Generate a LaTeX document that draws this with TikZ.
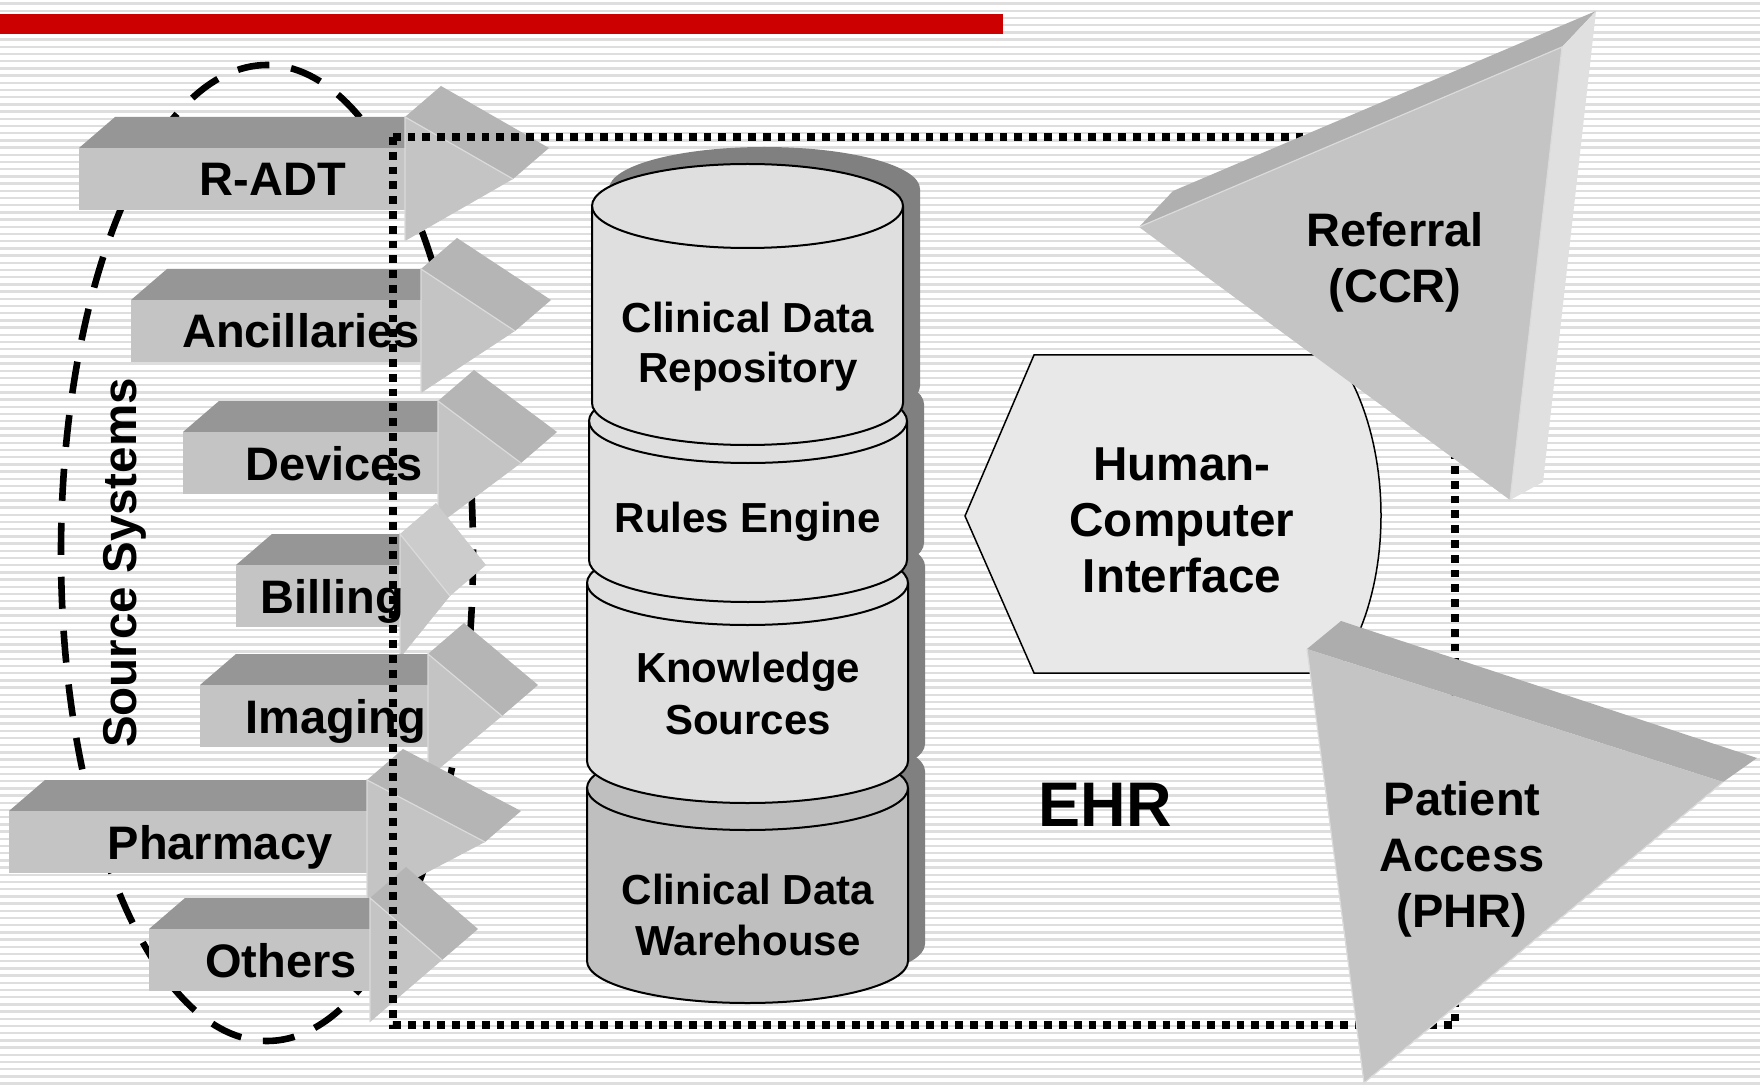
\documentclass[tikz,border=0pt]{standalone}
\usepackage{fontspec}
\setmainfont{Liberation Sans}
\definecolor{afront}{gray}{0.77}
\definecolor{atop}{gray}{0.59}
\definecolor{ahead}{gray}{0.71}
\definecolor{aheadlt}{gray}{0.80}
\definecolor{aedge}{gray}{0.86}
\definecolor{cyllt}{gray}{0.875}
\definecolor{cyldk}{gray}{0.75}
\definecolor{cylshadow}{gray}{0.5}
\definecolor{hcifill}{gray}{0.91}
\definecolor{stripe}{gray}{0.87}
\definecolor{redbar}{RGB}{204,0,0}
\definecolor{trifront}{gray}{0.77}
\definecolor{tritop}{gray}{0.69}
\definecolor{triside}{gray}{0.88}
\definecolor{tripband}{gray}{0.68}
% #1 name, #2 left, #3 right (head base), #4 body top, #5 head length, #6 text, #7 text x, #8 head-top colour
\newcommand\srcarrow[8]{%
  \fill[atop] (#2,#4) -- (#2+36,#4-31) -- (#3+36,#4-31) -- (#3,#4) -- cycle;
  \fill[afront] (#2,#4) rectangle (#3,#4+62);
  \fill[#8] (#3,#4-31) -- (#3+36,#4-62) -- (#3+#5+36,#4) -- (#3+#5,#4+31) -- cycle;
  \fill[afront] (#3,#4-31) -- (#3+#5,#4+31) -- (#3,#4+93) -- cycle;
  \draw[aedge, line width=0.6pt] (#3,#4+93) -- (#3,#4-31) -- (#3+#5,#4+31);
  \node[arrowtxt, anchor=base] (#1) at (#7,#4+48) {#6};
}
% cx, rx, top yc, bottom yc, ry
\newcommand\cylshade[5]{%
  \fill[cylshadow] (#1-#2+17,#3-17) -- (#1-#2+17,#4-17) arc[start angle=180,end angle=0,x radius=#2,y radius=#5]
    -- (#1+#2+17,#3-17) arc[start angle=0,end angle=-180,x radius=#2,y radius=#5] -- cycle;
}
\newcommand\cylbody[6]{%
  \filldraw[fill=#6, cylline] (#1-#2,#3) -- (#1-#2,#4) arc[start angle=180,end angle=0,x radius=#2,y radius=#5]
    -- (#1+#2,#3) arc[start angle=0,end angle=-180,x radius=#2,y radius=#5] -- cycle;
  \draw[cylline] (#1-#2,#3) arc[start angle=180,end angle=0,x radius=#2,y radius=#5];
}
\begin{document}
\begin{tikzpicture}[x=0.5pt,y=0.5pt,yscale=-1,
  arrowtxt/.style={font=\bfseries\fontsize{23.5}{28}\selectfont, inner sep=0pt},
  cyltxt/.style={font=\bfseries\fontsize{21}{25}\selectfont, inner sep=0pt},
  bigtxt/.style={font=\bfseries\fontsize{23.8}{28}\selectfont, inner sep=0pt},
  ehrtxt/.style={font=\bfseries\fontsize{31.5}{36}\selectfont, inner sep=0pt},
  cylline/.style={draw=black, line width=1pt},
  ringline/.style={line width=3.3pt, dash pattern=on 16pt off 11pt},
  boxline/.style={line width=3.6pt, dash pattern=on 3.9pt off 3.5pt},
  outline/.style={draw=black, line width=0.75pt},
]
\useasboundingbox (0,0) rectangle (1760,1085);
\fill[white] (0,0) rectangle (1760,1085);
\foreach \k in {0,...,150} \draw[stripe, line width=1.2pt] (0,{3.6+7.2*\k}) -- (1760,{3.6+7.2*\k});
\fill[redbar] (0,14) rectangle (1003,34);

% source systems ring
\draw[ringline] (267,553) ellipse [x radius=206, y radius=488];

% source arrows
\srcarrow{radt}{79}{405}{148}{108}{R-ADT}{273}{ahead}
\srcarrow{ancil}{131}{421}{300}{94}{Ancillaries}{301}{ahead}
\srcarrow{devices}{183}{438}{432}{83}{Devices}{334}{ahead}
\srcarrow{billing}{236}{400}{565}{50}{Billing}{332}{aheadlt}
\srcarrow{imaging}{200}{428}{685}{74}{Imaging}{336}{ahead}
\srcarrow{pharmacy}{9}{367}{811}{118}{Pharmacy}{220}{ahead}
\srcarrow{others}{149}{370}{929}{72}{Others}{281}{ahead}

% EHR boundary
\draw[boxline] (393,137) rectangle (1455,1025);

\node[arrowtxt, font=\bfseries\fontsize{23.75}{28}\selectfont, rotate=90, anchor=base] (srcsys) at (136,563) {Source Systems};

% cylinders stack
\cylshade{747.5}{155.5}{206}{403}{42}
\cylshade{748}{159}{421}{560}{42}
\cylshade{747.5}{160.5}{583}{761}{42}
\cylshade{747.5}{160.5}{788}{961}{42}
\cylbody{747.5}{160.5}{788}{961}{42}{cyldk}
\cylbody{747.5}{160.5}{583}{761}{42}{cyllt}
\cylbody{748}{159}{421}{560}{42}{cyllt}
\cylbody{747.5}{155.5}{206}{403}{42}{cyllt}

\node[cyltxt, anchor=base] (cdr1) at (748,333) {Clinical Data};
\node[cyltxt, anchor=base] (cdr2) at (748,382) {Repository};
\node[cyltxt, anchor=base] (rules) at (748,532) {Rules Engine};
\node[cyltxt, anchor=base] (ks1) at (748,682) {Knowledge};
\node[cyltxt, anchor=base] (ks2) at (748,734) {Sources};
\node[cyltxt, anchor=base] (cdw1) at (748,904) {Clinical Data};
\node[cyltxt, anchor=base] (cdw2) at (748,955) {Warehouse};

% human-computer interface
\filldraw[fill=hcifill, outline] (965,516) -- (1034,355) -- (1336,355)
  .. controls (1396,440) and (1396,592) .. (1336,673) -- (1034,673) -- cycle;
\node[bigtxt, anchor=base] (hci1) at (1182,480) {Human-};
\node[bigtxt, anchor=base] (hci2) at (1182,536) {Computer};
\node[bigtxt, anchor=base] (hci3) at (1182,592) {Interface};

% referral triangle
\fill[tritop] (1139,227) -- (1173,191) -- (1596,11) -- (1562,47) -- cycle;
\fill[triside] (1562,47) -- (1596,11) -- (1543,482) -- (1510,500) -- cycle;
\fill[trifront] (1139,227) -- (1562,47) -- (1510,500) -- cycle;
\draw[aedge, line width=0.6pt] (1139,227) -- (1562,47) -- (1510,500);
\node[arrowtxt, anchor=base] (ref1) at (1395,247) {Referral};
\node[arrowtxt, anchor=base] (ref2) at (1395,303) {(CCR)};

% patient access triangle
\fill[tripband] (1307,649) -- (1341,621) -- (1757,758) -- (1723,782) -- cycle;
\fill[trifront] (1307,649) -- (1723,782) -- (1364,1083) -- cycle;
\draw[aedge, line width=0.6pt] (1307,649) -- (1364,1083) -- (1723,782);
\node[arrowtxt, anchor=base] (phr1) at (1462,815) {Patient};
\node[arrowtxt, anchor=base] (phr2) at (1462,871) {Access};
\node[arrowtxt, anchor=base] (phr3) at (1462,927) {(PHR)};

\node[ehrtxt, anchor=base] (ehr) at (1105,826) {EHR};
\end{tikzpicture}
\end{document}
